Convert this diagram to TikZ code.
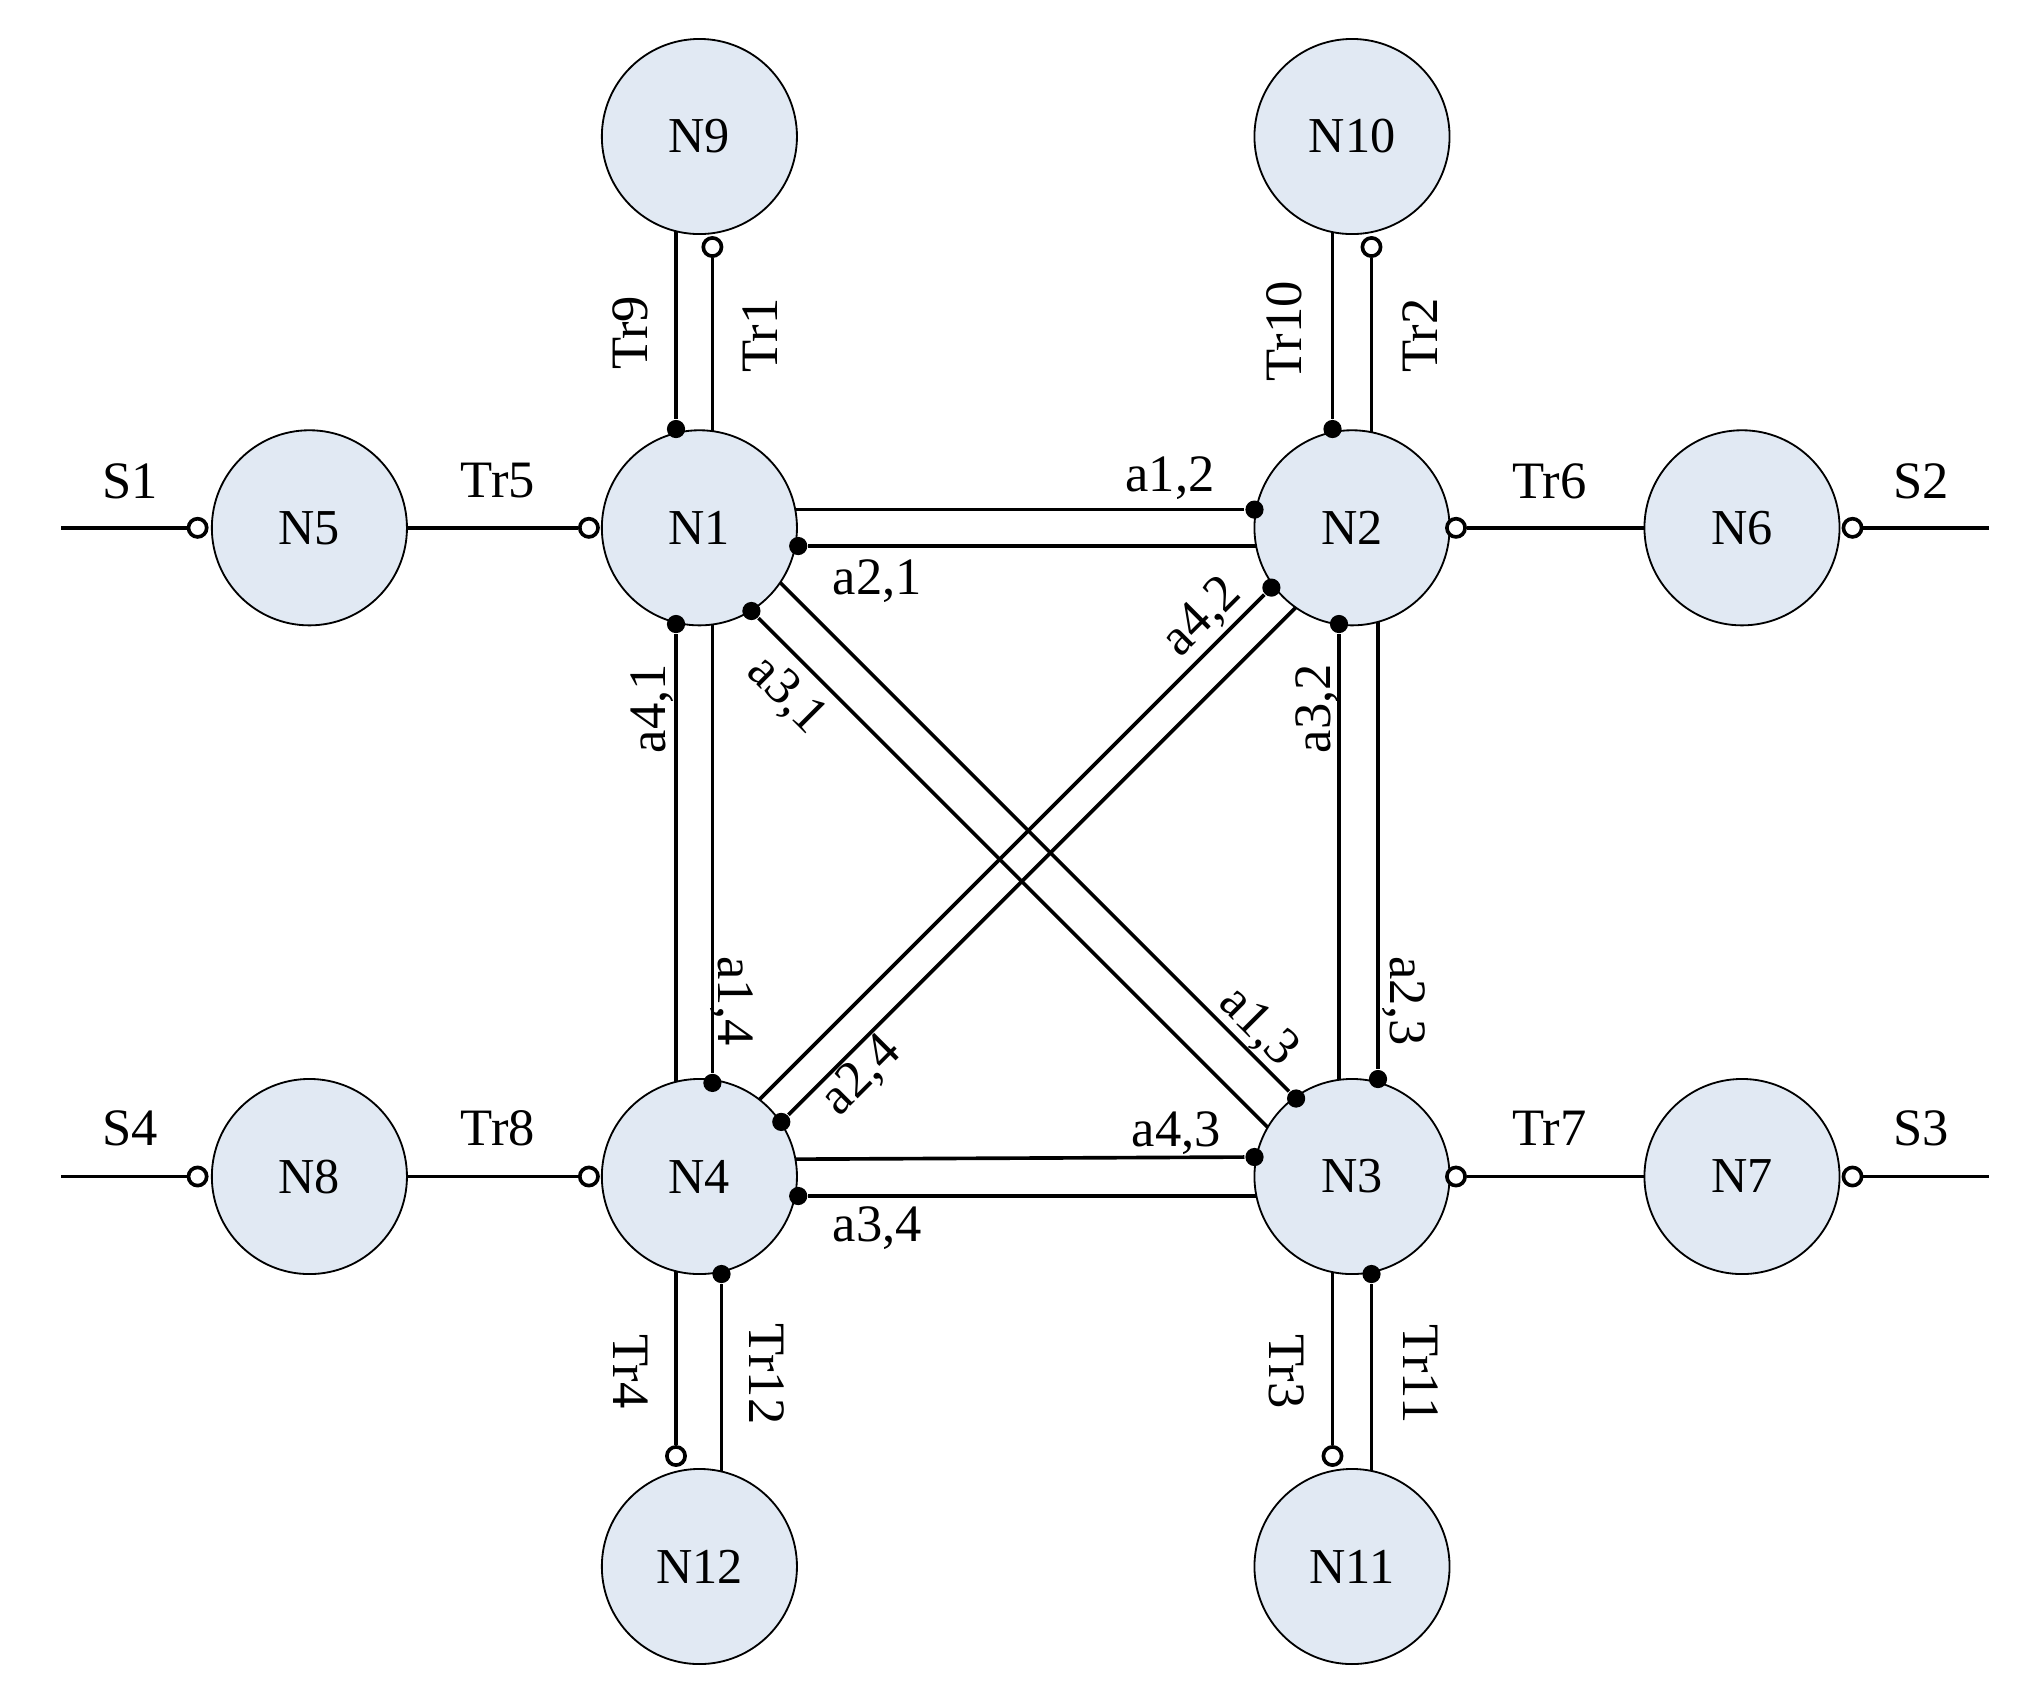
\documentclass[tikz,border=0pt]{standalone}
\usepackage{fontspec}
\setmainfont{Liberation Serif}
\usetikzlibrary{backgrounds}
\definecolor{nodefill}{RGB}{225,233,243}
\begin{document}
\begin{tikzpicture}[x=0.01cm, y=-0.01cm,
    station/.style={draw, circle, fill=nodefill, minimum size=1.5cm, inner sep=0pt, font=\fontsize{11}{13}\selectfont},
    dot/.style={circle, fill=black, inner sep=0pt, minimum size=0.14cm},
    odot/.style={circle, draw, fill=white, thick, inner sep=0pt, minimum size=0.14cm},
    lbl/.style={font=\fontsize{11.5}{14}\selectfont, inner sep=1pt},
    link/.style={thick}
]
\useasboundingbox (0,0) rectangle (1560,1296);
% stations
\foreach \n/\x/\y in {1/538/406, 2/1040/406, 3/1040/905, 4/538/905,
    5/238/406, 6/1340/406, 7/1340/905, 8/238/905,
    9/538/105, 10/1040/105, 11/1040/1205, 12/538/1205}
  \node[station] (N\n) at (\x,\y) {N\n};

% end points
\node[odot] (o5) at (152,406) {};
\node[odot] (o1) at (453,406) {};
\node[odot] (o2) at (1120,406) {};
\node[odot] (o6) at (1425,406) {};
\node[odot] (o8) at (152,905) {};
\node[odot] (o4) at (453,905) {};
\node[odot] (o3) at (1120,905) {};
\node[odot] (o7) at (1425,905) {};
\node[odot] (o9) at (548,190) {};
\node[odot] (o10) at (1055,190) {};
\node[odot] (o12) at (520,1120) {};
\node[odot] (o11) at (1025,1120) {};
\coordinate (s1) at (47,406);
\coordinate (s2) at (1530,406);
\coordinate (s4) at (47,905);
\coordinate (s3) at (1530,905);

% filled ends
\node[dot] (d9) at (520,330) {};
\node[dot] (d10) at (1025,330) {};
\node[dot] (d12) at (555,980) {};
\node[dot] (d11) at (1055,980) {};
\node[dot] (d12a) at (965,392) {};
\node[dot] (d21) at (614,420) {};
\node[dot] (d41) at (520,480) {};
\node[dot] (d14) at (548,833) {};
\node[dot] (d32) at (1030,480) {};
\node[dot] (d23) at (1060,830) {};
\node[dot] (d43) at (965,890) {};
\node[dot] (d34) at (614,920) {};
\node[dot] (d31) at (578,470) {};
\node[dot] (d13) at (997,845) {};
\node[dot] (d42) at (978,452) {};
\node[dot] (d24) at (601,863) {};

% far ends inside stations
\coordinate (c9) at (520,105);
\coordinate (c1t) at (548,406);
\coordinate (c10) at (1025,105);
\coordinate (c2t) at (1055,406);
\coordinate (c4b) at (520,905);
\coordinate (c12) at (555,1205);
\coordinate (c3b) at (1025,905);
\coordinate (c11) at (1055,1205);
\coordinate (c2l) at (1040,420);
\coordinate (c1r) at (538,392);
\coordinate (c4t) at (520,905);
\coordinate (c1d) at (548,406);
\coordinate (c3t) at (1030,905);
\coordinate (c2d) at (1060,406);
\coordinate (c3l) at (1040,920);
\coordinate (c4r) at (538,892);
\coordinate (c3x) at (1020,912);
\coordinate (c1x) at (560,408);
\coordinate (c4x) at (520,910);
\coordinate (c2x) at (1030,434);

\begin{scope}[on background layer]
\draw[link] (s1) -- (o5);
\draw[link] (N5) -- (o1);
\draw[link] (o2) -- (N6);
\draw[link] (o6) -- (s2);
\draw[link] (s4) -- (o8);
\draw[link] (N8) -- (o4);
\draw[link] (o3) -- (N7);
\draw[link] (o7) -- (s3);
\draw[link] (c9) -- (d9);
\draw[link] (o9) -- (c1t);
\draw[link] (c10) -- (d10);
\draw[link] (o10) -- (c2t);
\draw[link] (c4b) -- (o12);
\draw[link] (d12) -- (c12);
\draw[link] (c3b) -- (o11);
\draw[link] (d11) -- (c11);
\draw[link] (c1r) -- (d12a);
\draw[link] (d21) -- (c2l);
\draw[link] (d41) -- (c4t);
\draw[link] (c1d) -- (d14);
\draw[link] (d32) -- (c3t);
\draw[link] (c2d) -- (d23);
\draw[link] (c4r) -- (d43);
\draw[link] (d34) -- (c3l);
\draw[link] (d31) -- (c3x);
\draw[link] (c1x) -- (d13);
\draw[link] (d42) -- (c4x);
\draw[link] (c2x) -- (d24);
\end{scope}

% labels
\node[lbl] (lS1) at (100,370) {S1};
\node[lbl] (lS2) at (1478,370) {S2};
\node[lbl] (lS3) at (1478,868) {S3};
\node[lbl] (lS4) at (100,868) {S4};
\node[lbl] (lTr5) at (383,370) {Tr5};
\node[lbl] (lTr6) at (1192,370) {Tr6};
\node[lbl] (lTr7) at (1192,868) {Tr7};
\node[lbl] (lTr8) at (383,868) {Tr8};
\node[lbl, rotate=90] (lTr9) at (485,256) {Tr9};
\node[lbl, rotate=90] (lTr1) at (585,258) {Tr1};
\node[lbl, rotate=90] (lTr10) at (988,255) {Tr10};
\node[lbl, rotate=90] (lTr2) at (1092,258) {Tr2};
\node[lbl, rotate=-90] (lTr4) at (485,1055) {Tr4};
\node[lbl, rotate=-90] (lTr12) at (590,1057) {Tr12};
\node[lbl, rotate=-90] (lTr3) at (990,1055) {Tr3};
\node[lbl, rotate=-90] (lTr11) at (1093,1057) {Tr11};
\node[lbl] (la12) at (900,368) {a1,2};
\node[lbl] (la21) at (675,447) {a2,1};
\node[lbl] (la43) at (905,872) {a4,3};
\node[lbl] (la34) at (675,945) {a3,4};
\node[lbl, rotate=90] (la41) at (502,545) {a4,1};
\node[lbl, rotate=-90] (la14) at (563,770) {a1,4};
\node[lbl, rotate=90] (la32) at (1013,545) {a3,2};
\node[lbl, rotate=-90] (la23) at (1080,770) {a2,3};
\node[lbl, rotate=-45] (la31) at (605,535) {a3,1};
\node[lbl, rotate=-45] (la13) at (968,790) {a1,3};
\node[lbl, rotate=45] (la42) at (925,475) {a4,2};
\node[lbl, rotate=45] (la24) at (663,828) {a2,4};
\end{tikzpicture}
\end{document}
